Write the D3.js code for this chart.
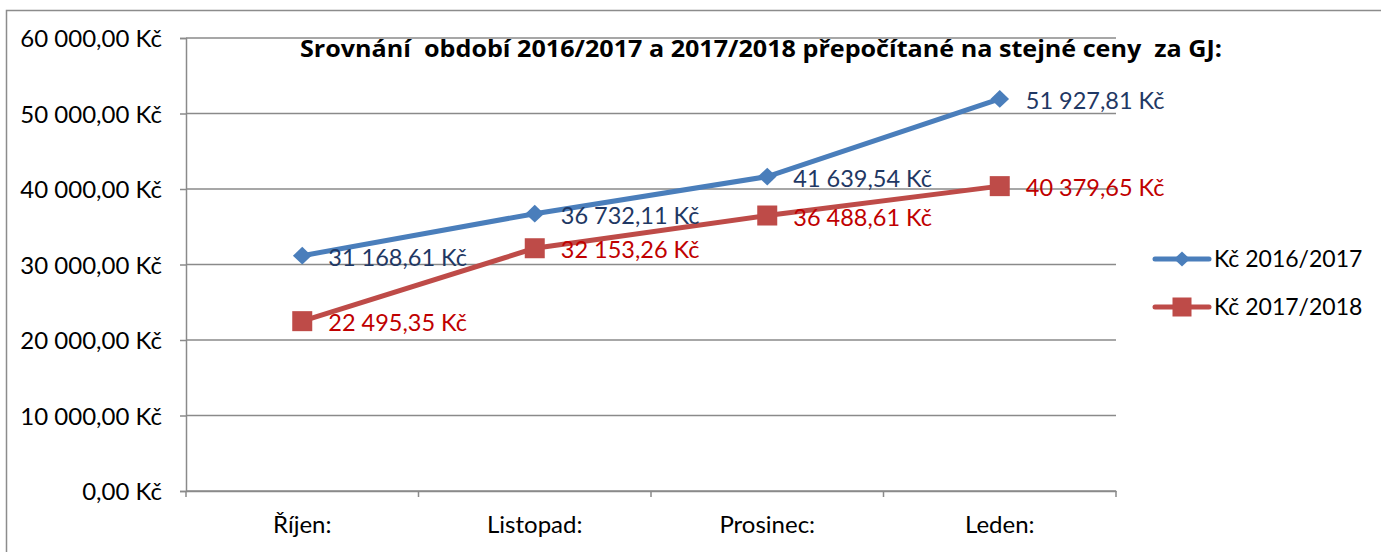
<!DOCTYPE html>
<meta charset="utf-8">
<head>
  <style>
    body {margin: 0; background-color: #ffffff;}
    text {font-family: Lato, "Open Sans", sans-serif;}
  </style>
  <title></title>
</head>
<body>
<script src="https://d3js.org/d3.v7.min.js"></script>
<script>

const months = ["Říjen:", "Listopad:", "Prosinec:", "Leden:"];
const seriesNames = ["Kč 2016/2017", "Kč 2017/2018"];
const values1617 = [31168.61, 36732.11, 41639.54, 51927.81];
const values1718 = [22495.35, 32153.26, 36488.61, 40379.65];
const yTicks = [0, 10000, 20000, 30000, 40000, 50000, 60000];
const chartTitle = "Srovnání  období 2016/2017 a 2017/2018 přepočítané na stejné ceny  za GJ:";

const W = 1381, H = 552;
const margin = {top: 38, right: 265, bottom: 61, left: 186};
const width = W - margin.left - margin.right,
      height = H - margin.top - margin.bottom;

const colors = ["#4a7ebb", "#be4b48"];
const labelColors = ["#1f3864", "#c00000"];

const fmt = v => d3.format(",.2f")(v).replace(/,/g, " ").replace(".", ",") + " Kč";

const svg = d3.select("body").append("svg")
    .attr("width", W)
    .attr("height", H);

// frame of the embedded chart
svg.append("path")
  .attr("d", "M6.5," + H + "V10.5H" + W)
  .attr("fill", "none")
  .attr("stroke", "#8c8c8c")
  .attr("stroke-width", 1.5);

const g = svg.append("g")
  .attr("transform", "translate(" + margin.left + "," + margin.top + ")");

const x = d3.scaleBand().domain(months).range([0, width]);
const y = d3.scaleLinear().domain([0, 60000]).range([height, 0]);

// gridlines
g.selectAll(".grid")
  .data(yTicks)
  .enter().append("line")
    .attr("x1", 0).attr("x2", width)
    .attr("y1", d => y(d)).attr("y2", d => y(d))
    .attr("stroke", "#8a8a8a")
    .attr("stroke-width", 1.5);

const yAxis = g.append("g")
  .call(d3.axisLeft(y).tickValues(yTicks).tickFormat(fmt).tickSize(6).tickPadding(18));
yAxis.select(".domain").attr("stroke", "#8a8a8a").attr("stroke-width", 1.5);
yAxis.selectAll(".tick line").attr("stroke", "#8a8a8a").attr("stroke-width", 1.5);
yAxis.selectAll("text").attr("font-size", 24).attr("fill", "#000").attr("dy", "0.36em");

const xAxis = g.append("g")
  .attr("transform", "translate(0," + height + ")")
  .call(d3.axisBottom(x).tickSize(0).tickPadding(25));
xAxis.select(".domain").attr("stroke", "#8a8a8a").attr("stroke-width", 1.5);
xAxis.selectAll("text").attr("font-size", 24).attr("fill", "#000");
g.selectAll(".xtick")
  .data(d3.range(months.length + 1))
  .enter().append("line")
    .attr("x1", i => i * x.step()).attr("x2", i => i * x.step())
    .attr("y1", height).attr("y2", height + 6)
    .attr("stroke", "#8a8a8a")
    .attr("stroke-width", 1.5);

const cx = d => x(d) + x.bandwidth() / 2;
const line = d3.line().x(d => cx(d.m)).y(d => y(d.v));

const series = [values1617, values1718].map(vals => vals.map((v, i) => ({m: months[i], v: v})));

series.forEach((s, k) => {
  g.append("path")
    .datum(s)
    .attr("d", line)
    .attr("fill", "none")
    .attr("stroke", colors[k])
    .attr("stroke-width", 5)
    .attr("stroke-linejoin", "round");
});

function marker(sel, k, size) {
  if (k === 0) {
    sel.append("path")
      .attr("d", d3.symbol(d3.symbolDiamond2, size * size / 2)())
      .attr("transform", "scale(1.05,1)")
      .attr("fill", colors[k]);
  } else {
    sel.append("rect")
      .attr("x", -size / 2).attr("y", -size / 2)
      .attr("width", size).attr("height", size)
      .attr("fill", colors[k]);
  }
}

series.forEach((s, k) => {
  s.forEach(d => {
    const mg = g.append("g").attr("transform", "translate(" + cx(d.m) + "," + y(d.v) + ")");
    marker(mg, k, 20);
    g.append("text")
      .attr("x", cx(d.m) + 26)
      .attr("y", y(d.v) + 10)
      .attr("font-size", 23.5)
      .attr("fill", labelColors[k])
      .text(fmt(d.v));
  });
});

// title
svg.append("text")
  .attr("x", 300)
  .attr("y", 57)
  .style("font-family", "'Open Sans', sans-serif")
  .style("white-space", "pre")
  .attr("font-size", 22.5)
  .attr("font-weight", "bold")
  .attr("fill", "#000")
  .attr("textLength", 922)
  .attr("lengthAdjust", "spacingAndGlyphs")
  .text(chartTitle);

// legend
const legend = svg.selectAll(".legend")
  .data(seriesNames)
  .enter().append("g")
    .attr("transform", (d, i) => "translate(1155," + (259 + i * 48) + ")");
legend.append("line")
  .attr("x1", 0).attr("x2", 54)
  .attr("stroke", (d, i) => colors[i])
  .attr("stroke-width", 5)
  .attr("stroke-linecap", "round");
legend.each(function (d, i) {
  const mg = d3.select(this).append("g").attr("transform", "translate(27,0)");
  marker(mg, i, i === 0 ? 17 : 19);
});
legend.append("text")
  .attr("x", 59)
  .attr("y", 8)
  .attr("font-size", 23)
  .attr("fill", "#000")
  .text(d => d);

</script>
</body>
</html>
